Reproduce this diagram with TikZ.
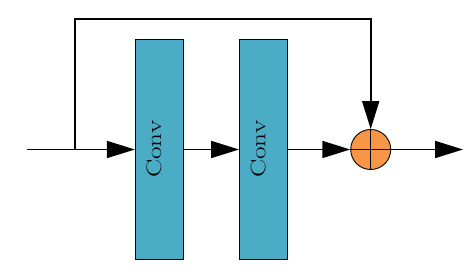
\documentclass[tikz,border=0pt]{standalone}
\usepackage{fontspec}
\setmainfont{Latin Modern Roman}
\usetikzlibrary{arrows.meta}
\definecolor{convblue}{HTML}{4BACC6}
\definecolor{sumorange}{HTML}{F79646}
\begin{document}
\begin{tikzpicture}[x=1pt,y=-1pt,
  convbox/.style={draw=black,line width=0.9pt,fill=convblue,minimum width=48pt,minimum height=220pt,inner sep=0pt},
  convlabel/.style={rotate=90,inner sep=0pt,font=\fontsize{21}{21}\selectfont},
  sumnode/.style={circle,draw=black,line width=0.9pt,fill=sumorange,minimum size=40pt,inner sep=0pt},
  flow/.style={line width=1.8pt,-{Triangle[length=28pt,width=17pt]}},
  plain/.style={line width=1.8pt}]
\useasboundingbox (0,0) rectangle (476,275);
\node[convbox] (c1) at (159.3,149.3) {};
\node[convbox] (c2) at (263.5,149.3) {};
\node[convlabel] (l1) at (154,149.3) {\scalebox{1.3}[1]{Conv}};
\node[convlabel] (l2) at (258.2,149.3) {\scalebox{1.3}[1]{Conv}};
\node[sumnode] (s) at (370.7,149.5) {};
\draw[line width=0.9pt] (s.north) -- (s.south) (s.west) -- (s.east);
\coordinate (in) at (27,149.5);
\coordinate (br) at (75,149.5);
\coordinate (tl) at (75,19.3);
\coordinate (tr) at (370.7,19.3);
\coordinate (out) at (463,149.5);
\draw[plain] (in) -- (br);
\draw[flow] (br) -- (c1.west |- br);
\draw[flow] (c1.east |- br) -- (c2.west |- br);
\draw[flow] (c2.east |- br) -- (s.west);
\draw[flow] (s.east) -- (out);
\draw[flow] (br) -- (tl) -- (tr) -- (s.north);
\end{tikzpicture}
\end{document}
